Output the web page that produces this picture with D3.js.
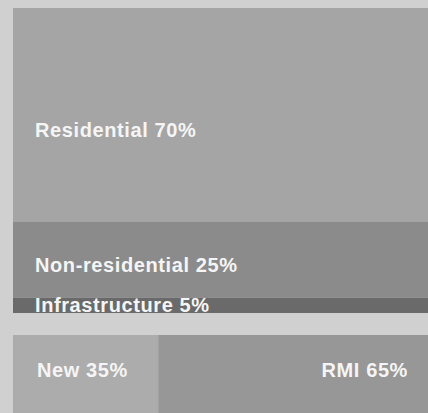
<!DOCTYPE html>
<html>
<head>
<meta charset="utf-8">
<script src="https://cdn.jsdelivr.net/npm/d3@7/dist/d3.min.js"></script>
<style>
  html, body { margin: 0; padding: 0; background: #d0d0d0; }
  svg { display: block; }
  .lbl { font-family: "Liberation Sans", Arial, Helvetica, sans-serif; font-weight: bold; font-size: 20px; letter-spacing: 0.6px; fill: #f5f5f5; }
</style>
</head>
<body>
<svg id="chart" width="428" height="413"></svg>
<script>
// Construction output split by sector (stacked vertically)
const sectorNames  = ["Residential", "Non-residential", "Infrastructure"];
const sectorShares = [70, 25, 5];

// Split by type of work (stacked horizontally)
const workNames  = ["New", "RMI"];
const workShares = [35, 65];

const W = 428, H = 413;
const svg = d3.select("#chart");

svg.append("rect").attr("width", W).attr("height", H).attr("fill", "#d0d0d0");

// ---- sector block ----
const sectorColor = d3.scaleOrdinal().domain(sectorNames).range(["#a5a5a5", "#8b8b8b", "#6a6a6a"]);
const yS = d3.scaleLinear().domain([0, d3.sum(sectorShares)]).range([8, 313]);
const sectorStack = [];
sectorShares.reduce((acc, v, i) => { sectorStack.push({ name: sectorNames[i], v, y0: acc, y1: acc + v }); return acc + v; }, 0);

const xLeft = 13, xRight = 428;
svg.append("g").selectAll("rect").data(sectorStack).join("rect")
  .attr("x", xLeft).attr("width", xRight - xLeft)
  .attr("y", d => yS(d.y0))
  .attr("height", d => yS(d.y1) - yS(d.y0))
  .attr("fill", d => sectorColor(d.name));

// label baselines within the sector block
const sectorLabelY = [137, 272, 312];
svg.append("g").selectAll("text").data(sectorStack).join("text")
  .attr("class", "lbl")
  .attr("x", 35)
  .attr("y", (d, i) => sectorLabelY[i])
  .text(d => `${d.name} ${d.v}%`);

// ---- work-type bar ----
const workColor = d3.scaleOrdinal().domain(workNames).range(["#acacac", "#979797"]);
const xW = d3.scaleLinear().domain([0, d3.sum(workShares)]).range([xLeft, xRight]);
const workStack = [];
workShares.reduce((acc, v, i) => { workStack.push({ name: workNames[i], v, x0: acc, x1: acc + v }); return acc + v; }, 0);

const barTop = 335;
svg.append("g").selectAll("rect").data(workStack).join("rect")
  .attr("x", d => xW(d.x0))
  .attr("width", d => xW(d.x1) - xW(d.x0))
  .attr("y", barTop).attr("height", H - barTop)
  .attr("fill", d => workColor(d.name));

svg.append("g").selectAll("text").data(workStack).join("text")
  .attr("class", "lbl")
  .attr("x", (d, i) => i === 0 ? xW(d.x0) + 24 : xW(d.x1) - 20)
  .attr("text-anchor", (d, i) => i === 0 ? "start" : "end")
  .attr("y", 377)
  .text(d => `${d.name} ${d.v}%`);
</script>
</body>
</html>
